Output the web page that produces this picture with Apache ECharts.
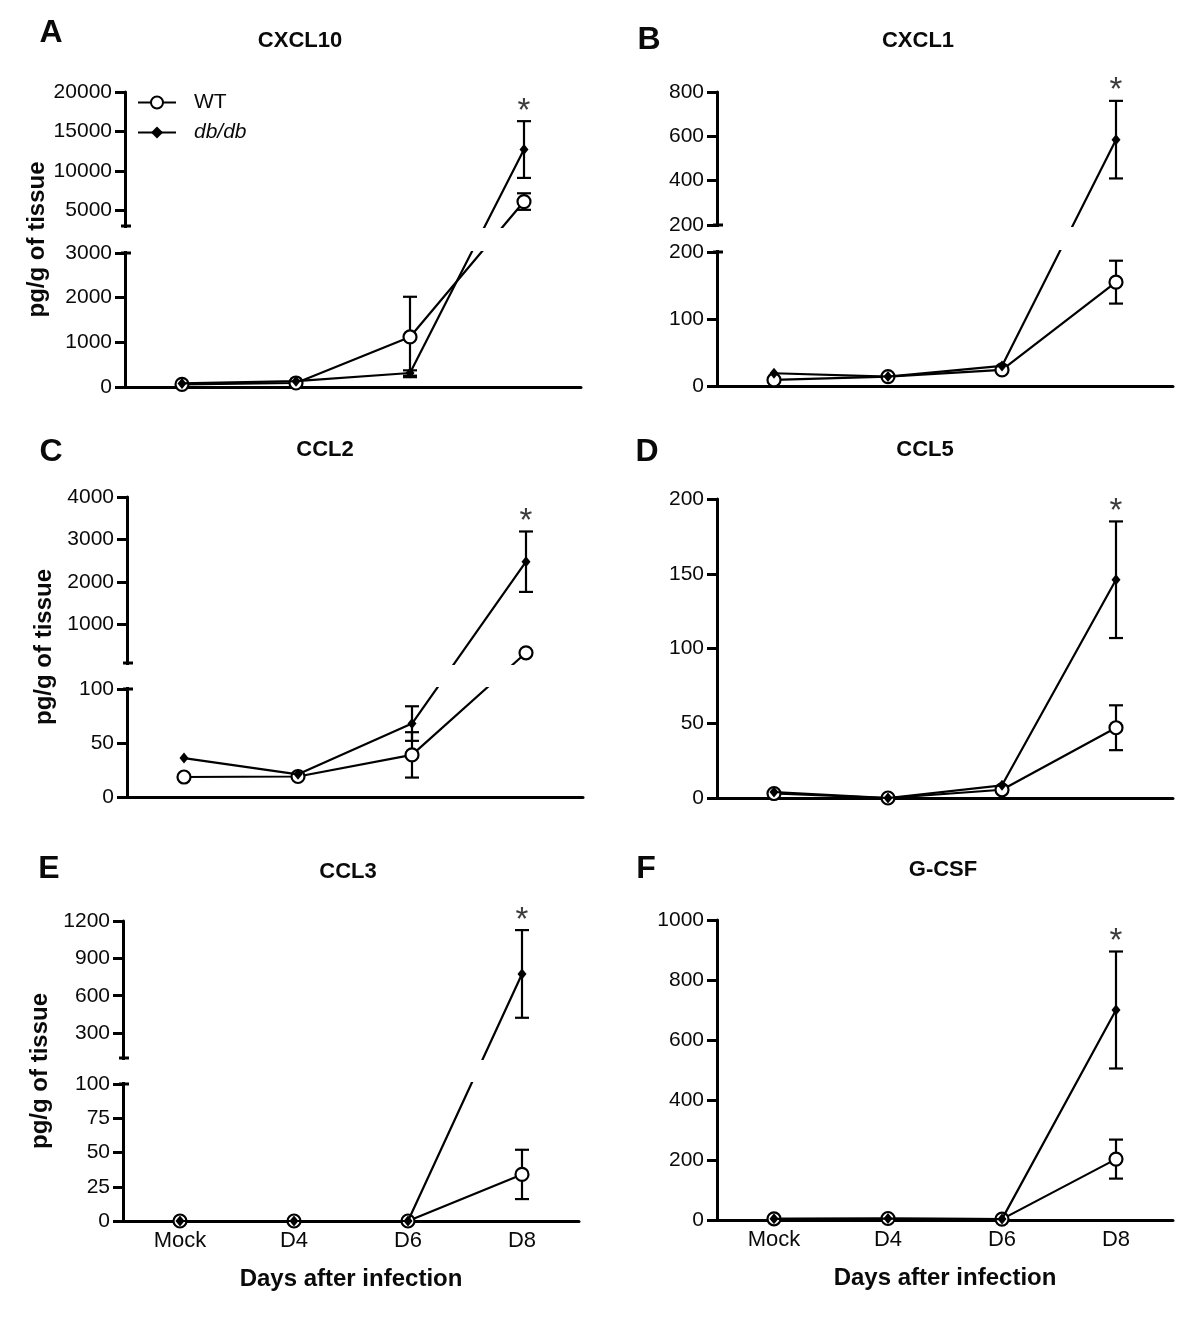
<!DOCTYPE html>
<html>
<head>
<meta charset="utf-8">
<title>Chemokines after infection</title>
<script src="https://cdn.jsdelivr.net/npm/echarts@6/dist/echarts.min.js"></script>
<style>
  html, body { margin: 0; padding: 0; background: #fff; }
  #chart { width: 1200px; height: 1326px; }
</style>
</head>
<body>
<div id="chart"></div>
<script>
var days = ['Mock', 'D4', 'D6', 'D8'];
var groups = ['WT', 'db/db'];

// A - CXCL10
var cxcl10WT = [60, 90, 1120, 6100];
var cxcl10WTErr = [0, 0, 900, 1050];
var cxcl10DB = [80, 130, 313, 12700];
var cxcl10DBErr = [0, 0, 60, 3600];
var cxcl10Ticks = [[0, 1000, 2000, 3000], [5000, 10000, 15000, 20000]];

// B - CXCL1
var cxcl1WT = [9, 14, 24, 155];
var cxcl1WTErr = [0, 0, 0, 32];
var cxcl1DB = [19, 14, 30, 585];
var cxcl1DBErr = [0, 0, 0, 175];
var cxcl1Ticks = [[0, 100, 200], [200, 400, 600, 800]];

// C - CCL2
var ccl2WT = [18.5, 19, 39, 340];
var ccl2WTErr = [0, 0, 21, 0];
var ccl2DB = [36, 21, 68, 2480];
var ccl2DBErr = [0, 0, 16, 710];
var ccl2Ticks = [[0, 50, 100], [1000, 2000, 3000, 4000]];

// D - CCL5
var ccl5WT = [3, 0, 5.5, 47];
var ccl5WTErr = [0, 0, 0, 15];
var ccl5DB = [4, 0, 8.5, 146];
var ccl5DBErr = [0, 0, 0, 39];
var ccl5Ticks = [[0, 50, 100, 150, 200]];

// E - CCL3
var ccl3WT = [0, 0, 0, 34];
var ccl3WTErr = [0, 0, 0, 18];
var ccl3DB = [0, 0, 0, 775];
var ccl3DBErr = [0, 0, 0, 352];
var ccl3Ticks = [[0, 25, 50, 75, 100], [300, 600, 900, 1200]];

// F - G-CSF
var gcsfWT = [4, 5, 3, 203];
var gcsfWTErr = [0, 0, 0, 65];
var gcsfDB = [4, 5, 3, 700];
var gcsfDBErr = [0, 0, 0, 195];
var gcsfTicks = [[0, 200, 400, 600, 800, 1000]];

// significant point (db/db vs WT) on D8
var sigIndex = 3;

document.addEventListener('DOMContentLoaded', function () {
  var chart = echarts.init(document.getElementById('chart'));
  var FONT = '"Liberation Sans", Arial, sans-serif';
  var INK = '#0a0a0a';

  // layout of each panel; segs = pieces of the broken y axis (value range + pixel height)
  var panels = [
    { letter: 'A', title: 'CXCL10', left: 125, top: 92, width: 456, gap: 27,
      segs: [{ min: 0, max: 3000, h: 134 }, { min: 3000, max: 20000, h: 134 }],
      ticks: cxcl10Ticks, wt: cxcl10WT, wtErr: cxcl10WTErr, db: cxcl10DB, dbErr: cxcl10DBErr,
      yName: true, xLabels: false, titleX: 300, titleY: 41, letterX: 51, letterY: 33 },
    { letter: 'B', title: 'CXCL1', left: 717, top: 92, width: 456, gap: 27,
      segs: [{ min: 0, max: 200, h: 134 }, { min: 200, max: 800, h: 133 }],
      ticks: cxcl1Ticks, wt: cxcl1WT, wtErr: cxcl1WTErr, db: cxcl1DB, dbErr: cxcl1DBErr,
      yName: false, xLabels: false, titleX: 918, titleY: 41, letterX: 649, letterY: 40 },
    { letter: 'C', title: 'CCL2', left: 127, top: 497, width: 456, gap: 26,
      segs: [{ min: 0, max: 100, h: 108 }, { min: 100, max: 4000, h: 166 }],
      ticks: ccl2Ticks, wt: ccl2WT, wtErr: ccl2WTErr, db: ccl2DB, dbErr: ccl2DBErr,
      yName: true, xLabels: false, titleX: 325, titleY: 450, letterX: 51, letterY: 452 },
    { letter: 'D', title: 'CCL5', left: 717, top: 499, width: 456, gap: 0,
      segs: [{ min: 0, max: 200, h: 299 }],
      ticks: ccl5Ticks, wt: ccl5WT, wtErr: ccl5WTErr, db: ccl5DB, dbErr: ccl5DBErr,
      yName: false, xLabels: false, titleX: 925, titleY: 450, letterX: 647, letterY: 452 },
    { letter: 'E', title: 'CCL3', left: 123, top: 921, width: 456, gap: 26,
      segs: [{ min: 0, max: 100, h: 137 }, { min: 100, max: 1200, h: 137 }],
      ticks: ccl3Ticks, wt: ccl3WT, wtErr: ccl3WTErr, db: ccl3DB, dbErr: ccl3DBErr,
      yName: true, xLabels: true, titleX: 348, titleY: 872, letterX: 49, letterY: 869 },
    { letter: 'F', title: 'G-CSF', left: 717, top: 920, width: 456, gap: 0,
      segs: [{ min: 0, max: 1000, h: 300 }],
      ticks: gcsfTicks, wt: gcsfWT, wtErr: gcsfWTErr, db: gcsfDB, dbErr: gcsfDBErr,
      yName: false, xLabels: true, titleX: 943, titleY: 870, letterX: 646, letterY: 869 }
  ];

  // position of a value inside one segment of the broken axis
  function segPos(p, k, v) {
    var off = 0;
    for (var i = 0; i < k; i++) off += p.segs[i].h + p.gap;
    var s = p.segs[k];
    return off + (v - s.min) / (s.max - s.min) * s.h;
  }
  // value -> axis coordinate (picks the segment the value falls in)
  function toV(p, v) {
    for (var k = 0; k < p.segs.length; k++) {
      if (v <= p.segs[k].max || k === p.segs.length - 1) {
        return segPos(p, k, Math.max(v, p.segs[k].min));
      }
    }
  }
  function totalH(p) {
    return segPos(p, p.segs.length - 1, p.segs[p.segs.length - 1].max);
  }

  var grids = [], xAxes = [], yAxes = [], series = [];

  panels.forEach(function (p, i) {
    var H = totalH(p);
    grids.push({ left: p.left, top: p.top, width: p.width, height: H });

    // custom tick positions and their labels
    var tickVals = [], labelMap = {};
    p.ticks.forEach(function (list, k) {
      list.forEach(function (t) {
        var pos = segPos(p, k, t);
        tickVals.push(pos);
        labelMap[pos.toFixed(2)] = String(t);
      });
    });

    xAxes.push({
      gridIndex: i, type: 'category', data: days, boundaryGap: true,
      axisLine: { lineStyle: { color: '#000', width: 3 } },
      axisTick: { show: false },
      axisLabel: { show: p.xLabels, fontSize: 22, fontFamily: FONT, color: INK, margin: 9 },
      name: p.xLabels ? 'Days after infection' : '',
      nameLocation: 'middle', nameGap: 46,
      nameTextStyle: { fontSize: 24, fontWeight: 'bold', fontFamily: FONT, color: INK }
    });

    yAxes.push({
      gridIndex: i, type: 'value', min: 0, max: H,
      axisLine: { show: true, lineStyle: { color: '#000', width: 3 } },
      axisTick: { show: true, length: 10, customValues: tickVals, lineStyle: { color: '#000', width: 3 } },
      axisLabel: {
        customValues: tickVals, margin: 13, fontSize: 21, fontFamily: FONT, color: INK,
        formatter: function (v) { return labelMap[Number(v).toFixed(2)] || ''; }
      },
      splitLine: { show: false },
      name: p.yName ? 'pg/g of tissue' : '',
      nameLocation: 'middle', nameGap: 71,
      nameTextStyle: { fontSize: 24, fontWeight: 'bold', fontFamily: FONT, color: INK }
    });

    // error bars (mean +/- error)
    var errData = [];
    [[p.wt, p.wtErr], [p.db, p.dbErr]].forEach(function (g) {
      g[0].forEach(function (m, j) {
        if (g[1][j] > 0) errData.push([j, toV(p, m + g[1][j]), toV(p, Math.max(m - g[1][j], 0))]);
      });
    });
    series.push({
      type: 'custom', xAxisIndex: i, yAxisIndex: i, z: 2, silent: true,
      data: errData,
      renderItem: function (params, api) {
        var top = api.coord([api.value(0), api.value(1)]);
        var bot = api.coord([api.value(0), api.value(2)]);
        var hw = 7;
        var st = { stroke: '#000', lineWidth: 2.2 };
        return {
          type: 'group',
          children: [
            { type: 'line', shape: { x1: top[0], y1: top[1], x2: bot[0], y2: bot[1] }, style: st },
            { type: 'line', shape: { x1: top[0] - hw, y1: top[1], x2: top[0] + hw, y2: top[1] }, style: st },
            { type: 'line', shape: { x1: bot[0] - hw, y1: bot[1], x2: bot[0] + hw, y2: bot[1] }, style: st }
          ]
        };
      }
    });

    series.push({
      name: 'WT', type: 'line', xAxisIndex: i, yAxisIndex: i, z: 3,
      data: p.wt.map(function (v) { return toV(p, v); }),
      symbol: 'circle', symbolSize: 13, showAllSymbol: true,
      lineStyle: { color: '#000', width: 2.2 },
      itemStyle: { color: '#fff', borderColor: '#000', borderWidth: 2.2 }
    });
    series.push({
      name: 'db/db', type: 'line', xAxisIndex: i, yAxisIndex: i, z: 4,
      data: p.db.map(function (v) { return toV(p, v); }),
      symbol: 'diamond', symbolSize: [9, 11], showAllSymbol: true,
      lineStyle: { color: '#000', width: 2.2 },
      itemStyle: { color: '#000' }
    });

    // asterisk above the db/db error bar
    var sigTop = p.db[sigIndex] + p.dbErr[sigIndex];
    series.push({
      type: 'scatter', xAxisIndex: i, yAxisIndex: i, z: 5, silent: true,
      data: [[sigIndex, toV(p, sigTop)]], symbolSize: 0,
      label: { show: true, position: 'top', distance: -7, formatter: '*',
        fontSize: 33, fontFamily: FONT, color: INK }
    });
  });

  var option = {
    animation: false,
    backgroundColor: '#fff',
    legend: {
      orient: 'vertical', left: 132, top: 87,
      itemWidth: 38, itemHeight: 15, itemGap: 9,
      selectedMode: false,
      data: [{ name: 'WT' }, { name: 'db/db', textStyle: { fontStyle: 'italic' } }],
      textStyle: { fontSize: 21, fontFamily: FONT, color: INK, lineHeight: 20, padding: [0, 0, 0, 13] }
    },
    grid: grids,
    xAxis: xAxes,
    yAxis: yAxes,
    series: series
  };
  chart.setOption(option);

  // titles, panel letters and axis-break marks
  var graphics = [];
  panels.forEach(function (p, i) {
    graphics.push({ type: 'text', x: p.titleX, y: p.titleY, z: 100,
      style: { text: p.title, align: 'center', verticalAlign: 'middle',
        font: 'bold 22px ' + FONT, fill: INK } });
    graphics.push({ type: 'text', x: p.letterX, y: p.letterY, z: 100,
      style: { text: p.letter, align: 'center', verticalAlign: 'middle',
        font: 'bold 32px ' + FONT, fill: INK } });

    if (p.segs.length > 1) {
      var lowTop = chart.convertToPixel({ gridIndex: i }, [0, p.segs[0].h]);
      var upBot = chart.convertToPixel({ gridIndex: i }, [0, p.segs[0].h + p.gap]);
      var axisX = p.left;
      graphics.push({ type: 'rect', z: 100,
        shape: { x: axisX - 6, y: upBot[1] + 2, width: p.width + 14, height: lowTop[1] - upBot[1] - 4 },
        style: { fill: '#fff' } });
      [lowTop[1], upBot[1]].forEach(function (y) {
        graphics.push({ type: 'line', z: 101,
          shape: { x1: axisX - 4, y1: y, x2: axisX + 6, y2: y },
          style: { stroke: '#000', lineWidth: 3 } });
      });
    }
  });
  chart.setOption({ graphic: graphics });
});
</script>
</body>
</html>
